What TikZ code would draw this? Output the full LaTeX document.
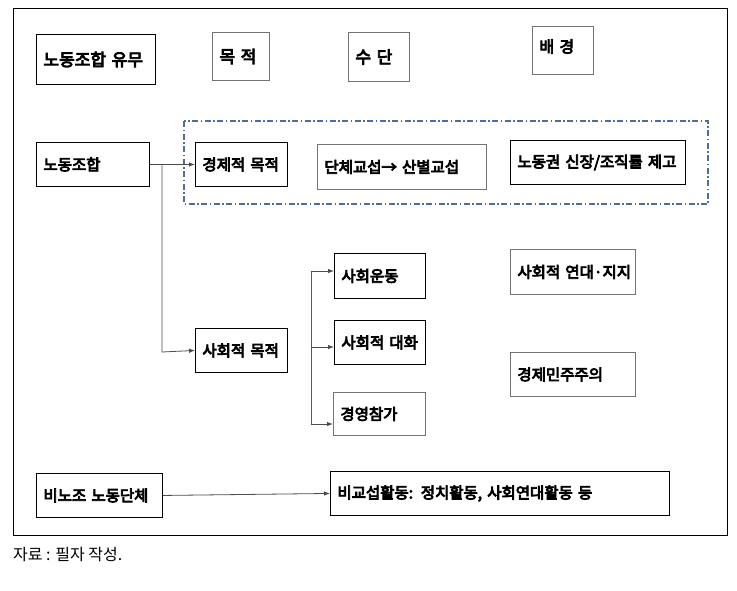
\documentclass[tikz,border=0pt]{standalone}
\usepackage{fontspec}
\setmainfont{Noto Sans CJK KR}[BoldFont={Noto Sans CJK KR}, BoldFeatures={FakeBold=5}]
\newfontfamily\capfont{Noto Sans CJK KR}
\usetikzlibrary{arrows.meta}
\definecolor{dd}{HTML}{4F6E98}
\tikzset{
  bx/.style={draw=black, line width=0.9pt, anchor=north west, align=left, inner xsep=7pt, inner ysep=0pt},
  gbx/.style={bx, draw=black!55},
  arr/.style={draw=black!70, line width=0.8pt, -{Latex[length=6pt,width=4.5pt]}},
  ln/.style={draw=black!65, line width=0.8pt},
}
\newcommand{\bxat}[8]{% name, style, x1,y1,x2,y2, text, size
  \pgfmathsetmacro{\bw}{#5-#3}\pgfmathsetmacro{\bh}{#6-#4}\pgfmathsetmacro{\tw}{#5-#3-14}
  \node[#2, minimum width=\bw pt, minimum height=\bh pt, text width=\tw pt, font=\fontsize{#8}{#8}\selectfont\bfseries] (#1) at (#3,#4) {\mbox{#7}};}
\begin{document}
\begin{tikzpicture}[x=1pt,y=-1pt]
\useasboundingbox (0,0) rectangle (737,590);
% outer frame
\draw[line width=1pt] (13,8) rectangle (727.5,535.5);
% dash-dot region
\draw[dd, line width=1.3pt, dash pattern=on 6pt off 2.5pt on 1.5pt off 2.5pt] (184,121) rectangle (708,204);
% header boxes
\bxat{h1}{bx}{36}{34}{155}{84}{노동조합 유무}{17}
\bxat{h2}{gbx}{212}{32}{269}{80}{목 적}{17}
\bxat{h3}{gbx}{348}{32}{409}{81}{수 단}{17}
\node[gbx, minimum width=61pt, minimum height=48pt, text width=47pt, text depth=9pt, font=\fontsize{16}{16}\selectfont\bfseries] (h4) at (532,26) {배 경};
% row 1
\bxat{nj}{bx}{36}{142}{149}{186}{노동조합}{15.5}
\bxat{econ}{bx}{195}{142}{287}{186}{경제적 목적}{15.5}
\bxat{coll}{gbx}{317}{144}{486}{189}{단체교섭→ 산별교섭}{15.5}
\bxat{right}{bx}{510}{140}{685}{184}{노동권 신장/조직률 제고}{15.5}
% social
\bxat{soc}{bx}{195}{328}{287}{372}{사회적 목적}{15.5}
\bxat{sm}{bx}{334}{253}{425}{298}{사회운동}{15.5}
\bxat{sd}{bx}{334}{320}{425}{364}{사회적 대화}{15.5}
\bxat{ep}{gbx}{333}{392}{425}{435}{경영참가}{15.5}
\bxat{sol}{gbx}{510}{249}{635}{294}{사회적 연대·지지}{15.5}
\bxat{ed}{gbx}{510}{352}{635}{396}{경제민주주의}{15.5}
% bottom
\bxat{nn}{bx}{36}{473}{162}{517}{비노조 노동단체}{15.5}
\bxat{bi}{bx}{330}{471}{669}{515}{비교섭활동: 정치활동, 사회연대활동 등}{15.5}
% connectors
\coordinate (j1) at (162,164);
\coordinate (j2) at (162,352);
\draw[arr] (nj.east) -- (econ.west);
\draw[arr] (j1) -- (j2) -- (soc.west);
\coordinate (v1) at (311,271);
\coordinate (v2) at (311,347);
\coordinate (v3) at (311,424);
\draw[ln] (v1) -- (v3);
\draw[arr] (v1) -- (v1 -| sm.west);
\draw[arr] (v2) -- (v2 -| sd.west);
\draw[arr] (v3) -- (v3 -| ep.west);
\draw[arr] (nn.east) -- (bi.west);
% caption
\node[anchor=west, inner sep=0pt, font=\capfont\fontsize{16}{16}\selectfont] (cap) at (13,554) {자료 : 필자 작성.};
\end{tikzpicture}
\end{document}
